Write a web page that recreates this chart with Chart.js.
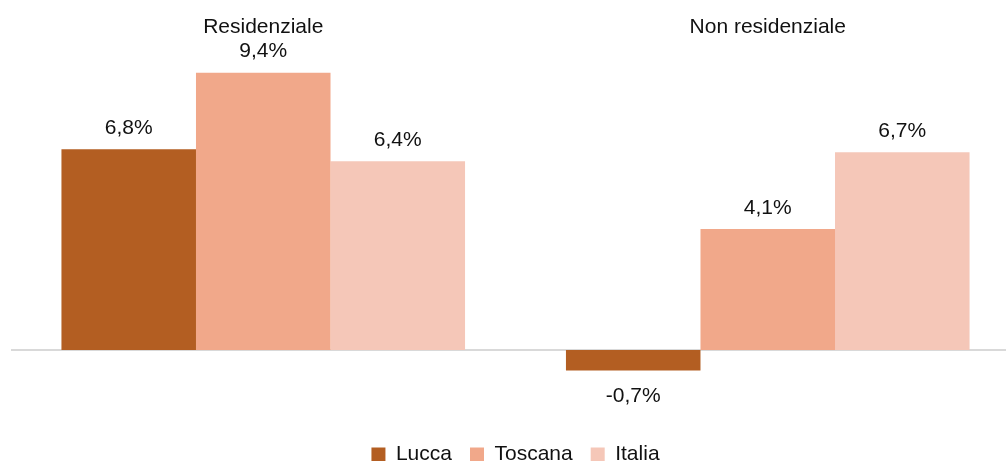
<!DOCTYPE html>
<html>
<head>
<meta charset="utf-8">
<script src="https://cdn.jsdelivr.net/npm/chart.js@4.4.1/dist/chart.umd.min.js"></script>
<style>
  html, body { margin: 0; padding: 0; background: #fff; overflow: hidden; }
  #wrap { position: relative; width: 1006px; height: 461px; overflow: hidden; }
  #box { position: absolute; left: 0; top: 0; width: 1021px; height: 475px; }
</style>
</head>
<body>
<div id="wrap"><div id="box"><canvas id="c"></canvas></div></div>
<script>
const categories = ["Residenziale", "Non residenziale"];
const seriesNames = ["Lucca", "Toscana", "Italia"];
const lucca = [6.8, -0.7];
const toscana = [9.4, 4.1];
const italia = [6.4, 6.7];
const colors = ["#B35E22", "#F1A88A", "#F5C7B8"];

const FONT = "'Liberation Sans', Arial, sans-serif";

const zeroLine = {
  id: 'zeroLine',
  beforeDatasetsDraw(chart) {
    const {ctx, chartArea, scales} = chart;
    const y = scales.y.getPixelForValue(0);
    ctx.save();
    ctx.strokeStyle = '#D9D9D9';
    ctx.lineWidth = 2;
    ctx.beginPath();
    ctx.moveTo(chartArea.left, y);
    ctx.lineTo(chartArea.right, y);
    ctx.stroke();
    ctx.restore();
  }
};

const valueLabels = {
  id: 'valueLabels',
  afterDatasetsDraw(chart) {
    const {ctx} = chart;
    ctx.save();
    ctx.font = "21px " + FONT;
    ctx.fillStyle = '#111';
    ctx.textAlign = 'center';
    ctx.textBaseline = 'middle';
    chart.data.datasets.forEach((ds, di) => {
      const meta = chart.getDatasetMeta(di);
      meta.data.forEach((bar, i) => {
        const v = ds.data[i];
        const txt = v.toFixed(1).replace('.', ',') + '%';
        const y = v >= 0 ? bar.y - 21 : bar.y + 26;
        ctx.fillText(txt, bar.x, y);
      });
    });
    ctx.restore();
  }
};

new Chart(document.getElementById('c'), {
  type: 'bar',
  data: {
    labels: categories,
    datasets: [
      { label: seriesNames[0], data: lucca, backgroundColor: colors[0] },
      { label: seriesNames[1], data: toscana, backgroundColor: colors[1] },
      { label: seriesNames[2], data: italia, backgroundColor: colors[2] }
    ]
  },
  options: {
    responsive: true,
    maintainAspectRatio: false,
    animation: false,
    layout: { padding: { left: 11, right: 1, top: 12, bottom: 0 } },
    datasets: { bar: { barPercentage: 1.0, categoryPercentage: 0.8 } },
    scales: {
      x: {
        position: 'top',
        grid: { display: false, drawTicks: false },
        border: { display: false },
        ticks: { color: '#111', font: { family: FONT, size: 21 }, padding: 3 }
      },
      y: {
        display: false,
        min: -2.58,
        max: 10.4
      }
    },
    plugins: {
      legend: {
        position: 'bottom',
        labels: {
          boxWidth: 14, boxHeight: 14,
          color: '#111',
          font: { family: FONT, size: 21 },
          padding: 18
        }
      },
      tooltip: { enabled: false }
    }
  },
  plugins: [zeroLine, valueLabels]
});
</script>
</body>
</html>
